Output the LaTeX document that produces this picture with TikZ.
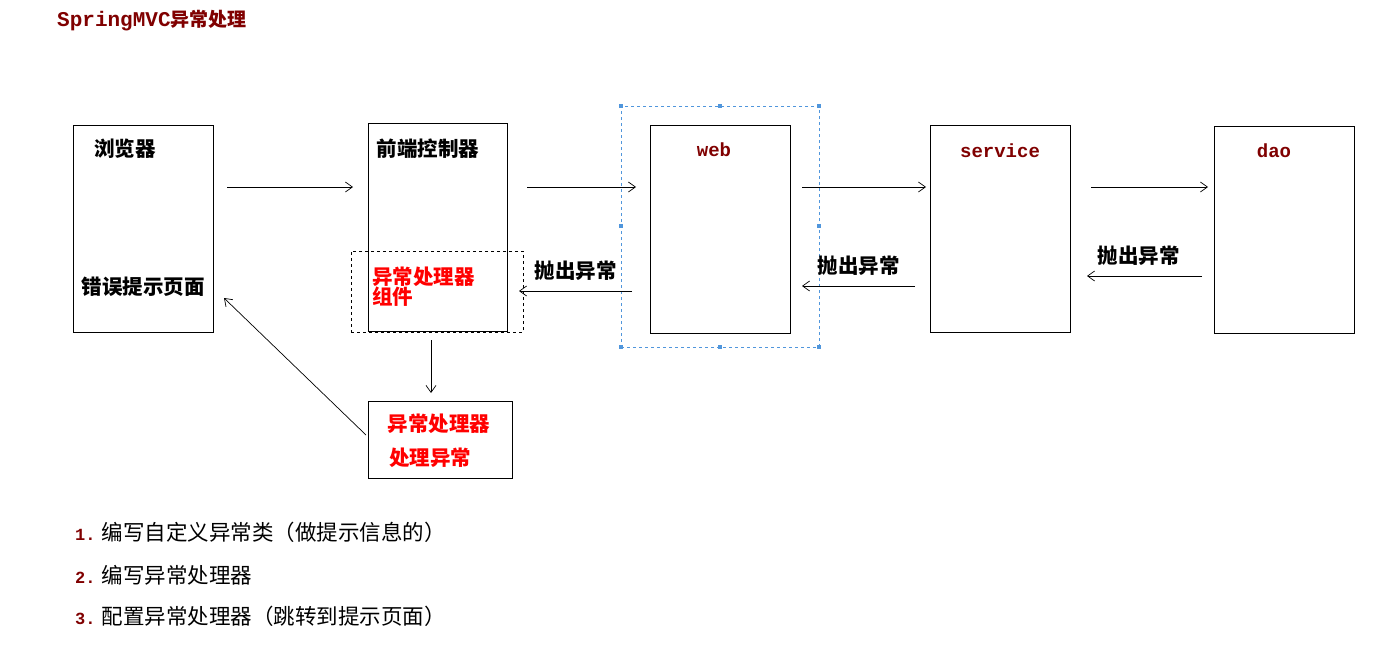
\documentclass[tikz,border=0pt]{standalone}
\usepackage{fontspec}
\setmainfont{Noto Sans CJK SC}
\setmonofont{Liberation Mono}
\usetikzlibrary{arrows.meta}
\definecolor{dred}{RGB}{128,0,0}
\definecolor{selb}{RGB}{80,150,220}
\begin{document}
\begin{tikzpicture}[x=1pt,y=-1pt,
  box/.style={draw,line width=0.8pt},
  arr/.style={-{Straight Barb[length=7pt,width=10pt]},line width=0.7pt},
  lbl/.style={font=\fontsize{20.5}{20.5}\selectfont\bfseries,inner sep=0pt},
  rl/.style={font=\fontsize{20.5}{20.5}\selectfont\bfseries,text=red,inner sep=0pt},
  tt/.style={font=\ttfamily\bfseries\fontsize{19}{19}\selectfont,text=dred},
  item/.style={anchor=west,font=\fontsize{21.5}{21.5}\selectfont,inner sep=0pt}]
\useasboundingbox (0,0) rectangle (1383,662);
\fill[white] (0,0) rectangle (1383,662);
\node[anchor=west,inner sep=0pt,font=\fontsize{19}{19}\selectfont\bfseries,text=dred] (title) at (57,21) {{\ttfamily\fontsize{21}{21}\selectfont SpringMVC}异常处理};
% boxes
\node[box,minimum width=140pt,minimum height=207pt] (br) at (143,228.5) {};
\node[box,minimum width=139pt,minimum height=208pt] (fc) at (437.5,227) {};
\node[box,minimum width=140pt,minimum height=208pt] (web) at (720,229) {};
\node[box,minimum width=140pt,minimum height=207pt] (sv) at (1000,228.5) {};
\node[box,minimum width=140pt,minimum height=207pt] (dao) at (1284,229.5) {};
\node[draw,dashed,line width=0.8pt,minimum width=172pt,minimum height=81pt] (comp) at (437,291.5) {};
\node[draw=selb,dashed,line width=0.8pt,minimum width=198pt,minimum height=241pt] (sel) at (720,226.5) {};
\foreach \p in {(621,106),(720,106),(819,106),(621,226),(819,226),(621,347),(720,347),(819,347)}
  \fill[selb] \p ++(-2,-2) rectangle ++(4,4);
\node[box,minimum width=144pt,minimum height=77pt] (hd) at (440,439.5) {};
% texts
\node[lbl] (t1) at (125,149) {浏览器};
\node[lbl] (t2) at (143,287) {错误提示页面};
\node[lbl] (t3) at (428,149) {前端控制器};
\node[rl,anchor=west] (t4) at (372,277) {异常处理器};
\node[rl,anchor=west] (t5) at (372,297) {组件};
\node[tt] (t6) at (714,150) {web};
\node[tt] (t7) at (1000,151) {service};
\node[tt] (t8) at (1274,151) {dao};
\node[rl] (t9) at (439,424) {异常处理器};
\node[rl] (t10) at (430,458) {处理异常};
% forward arrows
\coordinate (a1) at (227,187); \coordinate (a2) at (353,187);
\coordinate (b1) at (527,187); \coordinate (b2) at (636,187);
\coordinate (c1) at (802,187); \coordinate (c2) at (926,187);
\coordinate (d1) at (1091,187); \coordinate (d2) at (1208,187);
\draw[arr] (a1) -- (a2);
\draw[arr] (b1) -- (b2);
\draw[arr] (c1) -- (c2);
\draw[arr] (d1) -- (d2);
% back arrows
\coordinate (e1) at (632,291); \coordinate (e2) at (519,291);
\coordinate (f1) at (915,286); \coordinate (f2) at (802,286);
\coordinate (g1) at (1202,276); \coordinate (g2) at (1087,276);
\draw[arr] (e1) -- (e2) node[lbl,pos=0.5,above=10pt] (l1) {抛出异常};
\draw[arr] (f1) -- (f2) node[lbl,pos=0.5,above=10pt] (l2) {抛出异常};
\draw[arr] (g1) -- (g2) node[lbl,pos=0.55,above=10pt] (l3) {抛出异常};
\coordinate (h1) at (431,340); \coordinate (h2) at (431,393);
\draw[arr] (h1) -- (h2);
\coordinate (k1) at (366,435); \coordinate (k2) at (224,298);
\draw[arr] (k1) -- (k2);
% list
\node[item] (i1) at (75,532) {{\ttfamily\bfseries\fontsize{17}{17}\selectfont\textcolor{dred}{1.}}\hspace{6pt}编写自定义异常类（做提示信息的）};
\node[item] (i2) at (75,575) {{\ttfamily\bfseries\fontsize{17}{17}\selectfont\textcolor{dred}{2.}}\hspace{6pt}编写异常处理器};
\node[item] (i3) at (75,616) {{\ttfamily\bfseries\fontsize{17}{17}\selectfont\textcolor{dred}{3.}}\hspace{6pt}配置异常处理器（跳转到提示页面）};
\end{tikzpicture}
\end{document}
